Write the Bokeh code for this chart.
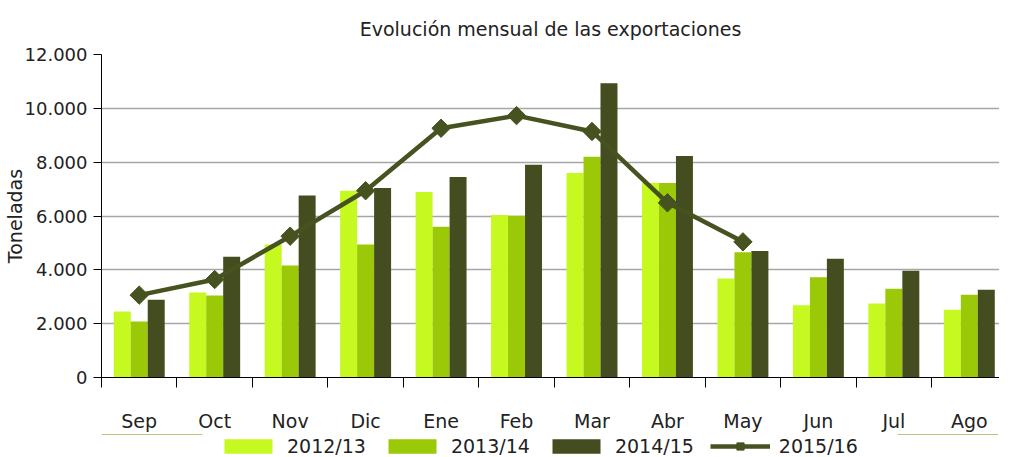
from bokeh.plotting import figure
from bokeh.layouts import column
from bokeh.models import ColumnDataSource, FixedTicker, Legend, LegendItem
from bokeh.transform import dodge
from bokeh.embed import file_html
from bokeh.resources import INLINE

months = ["Sep", "Oct", "Nov", "Dic", "Ene", "Feb", "Mar", "Abr", "May", "Jun", "Jul", "Ago"]
s2012 = [2450, 3160, 4940, 6940, 6890, 6040, 7600, 7230, 3680, 2680, 2750, 2520]
s2013 = [2080, 3050, 4160, 4940, 5600, 6010, 8200, 7230, 4650, 3720, 3300, 3070]
s2014 = [2890, 4490, 6760, 7040, 7450, 7900, 10930, 8230, 4700, 4410, 3970, 3260]
s2015 = [3060, 3640, 5250, 6940, 9260, 9730, 9140, 6490, 5040]
series_names = ["2012/13", "2013/14", "2014/15", "2015/16"]
y_ticks = [0, 2000, 4000, 6000, 8000, 10000, 12000]
y_tick_labels = ["0", "2.000", "4.000", "6.000", "8.000", "10.000", "12.000"]

FONT = "DejaVu Sans"
C1, C2, C3, CL = "#C6F91F", "#9BC908", "#444D20", "#46521F"

x = list(range(len(months)))
src = ColumnDataSource(dict(x=x, a=s2012, b=s2013, c=s2014))
line_src = ColumnDataSource(dict(x=x[:len(s2015)], y=s2015))

p = figure(frame_width=898, frame_height=323, output_backend="svg", toolbar_location=None,
           x_range=(-0.5, 11.4), y_range=(0, 12000),
           min_border_left=100, min_border_right=0, min_border_top=50, min_border_bottom=54)

p.title.text = "Evolución mensual de las exportaciones"
p.title.align = "center"
p.title.text_font = FONT
p.title.text_font_size = "19px"
p.title.text_font_style = "normal"
p.title.text_color = "#222222"
p.title.offset = 0
p.title.standoff = 30

bw = 0.225
r1 = p.vbar(x=dodge("x", -bw), top="a", width=bw, source=src, fill_color=C1, line_color=None)
r2 = p.vbar(x=dodge("x", 0), top="b", width=bw, source=src, fill_color=C2, line_color=None)
r3 = p.vbar(x=dodge("x", bw), top="c", width=bw, source=src, fill_color=C3, line_color=None)
rl = p.line("x", "y", source=line_src, line_color=CL, line_width=4.5)
rm = p.scatter("x", "y", source=line_src, marker="square", angle=0.785398, size=13,
               fill_color=CL, line_color=CL)

# axes
xa = p.xaxis[0]
xa.ticker = FixedTicker(ticks=x, minor_ticks=[i - 0.5 for i in range(len(months) + 1)])
xa.major_label_overrides = {i: m for i, m in enumerate(months)}
xa.major_tick_line_color = None
xa.minor_tick_line_color = "#000000"
xa.minor_tick_out = 10
xa.minor_tick_in = 0
xa.axis_line_color = "#000000"
xa.major_label_text_font = FONT
xa.major_label_text_font_size = "19px"
xa.major_label_text_color = "#222222"
xa.major_label_standoff = 22

ya = p.yaxis[0]
ya.ticker = FixedTicker(ticks=y_ticks)
ya.major_label_overrides = {t: l for t, l in zip(y_ticks, y_tick_labels)}
ya.major_tick_out = 8
ya.major_tick_in = 0
ya.minor_tick_line_color = None
ya.axis_line_color = "#000000"
ya.major_tick_line_color = "#000000"
ya.major_label_text_font = FONT
ya.major_label_text_font_size = "18px"
ya.major_label_text_color = "#222222"
ya.major_label_standoff = 6
ya.axis_label = "Toneladas"
ya.axis_label_text_font = FONT
ya.axis_label_text_font_size = "19px"
ya.axis_label_text_font_style = "normal"
ya.axis_label_text_color = "#222222"
ya.axis_label_standoff = -4

p.xgrid.grid_line_color = None
p.ygrid.grid_line_color = "#A6A6A6"
p.ygrid.grid_line_width = 1.5
p.outline_line_color = None

# legend strip below the chart: same series glyphs, kept out of its visible range
lg = figure(width=998, height=26, output_backend="svg", toolbar_location=None,
            x_range=(0, 1), y_range=(-2, -1), x_axis_type=None, y_axis_type=None,
            min_border_left=0, min_border_right=0, min_border_top=0, min_border_bottom=0)
lg.outline_line_color = None
lg.grid.grid_line_color = None
d1 = lg.vbar(x="x", top="a", width=bw, source=src, fill_color=C1, line_color=None)
d2 = lg.vbar(x="x", top="b", width=bw, source=src, fill_color=C2, line_color=None)
d3 = lg.vbar(x="x", top="c", width=bw, source=src, fill_color=C3, line_color=None)
dl = lg.line("x", "y", source=line_src, line_color=CL, line_width=4.5)
dm = lg.scatter("x", "y", source=line_src, marker="square", angle=0.785398, size=10,
                fill_color=CL, line_color=CL)

legend = Legend(items=[
    LegendItem(label=series_names[0], renderers=[d1]),
    LegendItem(label=series_names[1], renderers=[d2]),
    LegendItem(label=series_names[2], renderers=[d3]),
    LegendItem(label=series_names[3], renderers=[dl, dm]),
], orientation="horizontal", location=(117, 3),
    label_text_font=FONT, label_text_font_size="19px", label_text_color="#222222",
    glyph_width=60, glyph_height=18, spacing=16, label_standoff=9,
    border_line_color=None, background_fill_alpha=0, padding=0, margin=0)
lg.add_layout(legend, "center")

layout = column(p, lg, spacing=0)
open("out.html", "w").write(file_html(layout, INLINE))
